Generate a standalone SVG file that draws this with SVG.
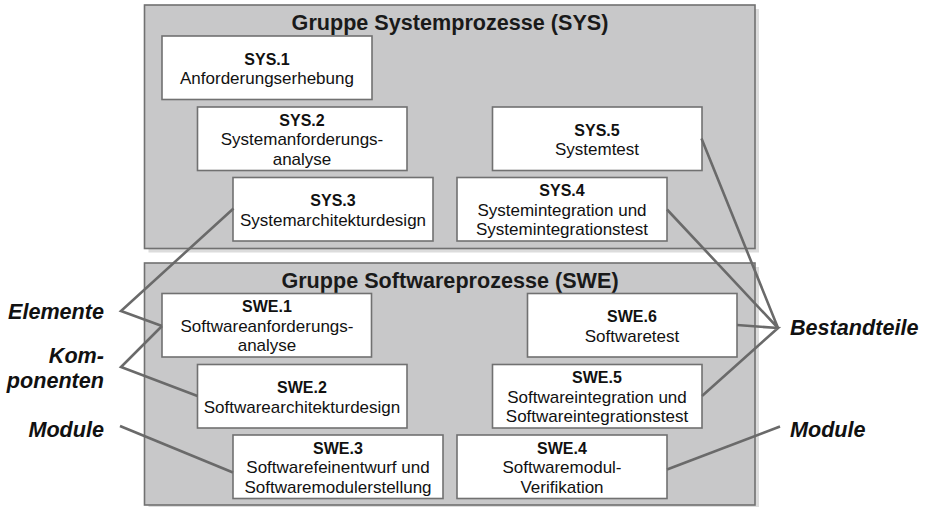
<svg xmlns="http://www.w3.org/2000/svg" width="926" height="507" viewBox="0 0 926 507">
  <style>
    .shadow { fill: #dcdcdc; }
    .group { fill: #c8c8c9; stroke: #717171; stroke-width: 1.6; }
    .box { fill: #ffffff; stroke: #717171; stroke-width: 1.6; }
    .gtitle { font-family: "Liberation Sans", Arial, sans-serif; font-size: 21.6px; font-weight: bold; fill: #1a1a1a; text-anchor: middle; }
    .id { font-family: "Liberation Sans", Arial, sans-serif; font-size: 16px; font-weight: bold; fill: #111; text-anchor: middle; }
    .txt { font-family: "Liberation Sans", Arial, sans-serif; font-size: 17px; fill: #111; text-anchor: middle; }
    .side { font-family: "Liberation Sans", Arial, sans-serif; font-size: 21.6px; font-weight: bold; font-style: italic; fill: #111; }
    .conn { fill: none; stroke: #6a6a6a; stroke-width: 2.6; stroke-linejoin: miter; stroke-linecap: butt; }
  </style>

  <!-- process groups -->
  <g id="group-sys">
    <rect class="shadow" x="148.5" y="9" width="610.5" height="243.5"/>
    <rect class="group" x="144.5" y="5" width="610.5" height="243.5"/>
    <text class="gtitle" x="450" y="29.5">Gruppe Systemprozesse (SYS)</text>
  </g>
  <g id="group-swe">
    <rect class="shadow" x="148.5" y="267" width="610.5" height="242"/>
    <rect class="group" x="144.5" y="263" width="610.5" height="242"/>
    <text class="gtitle" x="450" y="287.5">Gruppe Softwareprozesse (SWE)</text>
  </g>

  <!-- system processes -->
  <g id="sys1">
    <rect class="box" x="162" y="36" width="210" height="63.5"/>
    <text class="id" x="267" y="64.5">SYS.1</text>
    <text class="txt" x="267" y="84">Anforderungserhebung</text>
  </g>
  <g id="sys2">
    <rect class="box" x="197.5" y="107" width="209.5" height="63.5"/>
    <text class="id" x="302" y="125.5">SYS.2</text>
    <text class="txt" x="302" y="145">Systemanforderungs-</text>
    <text class="txt" x="302" y="164.5">analyse</text>
  </g>
  <g id="sys3">
    <rect class="box" x="233" y="177.5" width="200" height="63.5"/>
    <text class="id" x="333" y="206">SYS.3</text>
    <text class="txt" x="333" y="225.5">Systemarchitekturdesign</text>
  </g>
  <g id="sys4">
    <rect class="box" x="457" y="177.5" width="210" height="63.5"/>
    <text class="id" x="562" y="196">SYS.4</text>
    <text class="txt" x="562" y="215.5">Systemintegration und</text>
    <text class="txt" x="562" y="235">Systemintegrationstest</text>
  </g>
  <g id="sys5">
    <rect class="box" x="492.5" y="107" width="209.5" height="63.5"/>
    <text class="id" x="597" y="135.5">SYS.5</text>
    <text class="txt" x="597" y="155">Systemtest</text>
  </g>

  <!-- software processes -->
  <g id="swe1">
    <rect class="box" x="162" y="293.5" width="209.5" height="63.5"/>
    <text class="id" x="267" y="312">SWE.1</text>
    <text class="txt" x="267" y="331.5">Softwareanforderungs-</text>
    <text class="txt" x="267" y="351">analyse</text>
  </g>
  <g id="swe2">
    <rect class="box" x="197.5" y="364.5" width="209.5" height="63.5"/>
    <text class="id" x="302" y="393">SWE.2</text>
    <text class="txt" x="302" y="412.5">Softwarearchitekturdesign</text>
  </g>
  <g id="swe3">
    <rect class="box" x="233" y="435" width="210" height="63.5"/>
    <text class="id" x="338" y="453.5">SWE.3</text>
    <text class="txt" x="338" y="473">Softwarefeinentwurf und</text>
    <text class="txt" x="338" y="492.5">Softwaremodulerstellung</text>
  </g>
  <g id="swe4">
    <rect class="box" x="457" y="435" width="210" height="63.5"/>
    <text class="id" x="562" y="453.5">SWE.4</text>
    <text class="txt" x="562" y="473">Softwaremodul-</text>
    <text class="txt" x="562" y="492.5">Verifikation</text>
  </g>
  <g id="swe5">
    <rect class="box" x="492.5" y="364.5" width="209.5" height="63.5"/>
    <text class="id" x="597" y="383">SWE.5</text>
    <text class="txt" x="597" y="402.5">Softwareintegration und</text>
    <text class="txt" x="597" y="422">Softwareintegrationstest</text>
  </g>
  <g id="swe6">
    <rect class="box" x="527.5" y="293.5" width="209.5" height="63.5"/>
    <text class="id" x="632" y="322">SWE.6</text>
    <text class="txt" x="632" y="341.5">Softwaretest</text>
  </g>

  <!-- connectors to the side labels -->
  <g id="connectors">
    <polyline class="conn" points="233.5,208.5 121,311 162,326"/>
    <polyline class="conn" points="162,326 121,367 197.5,396"/>
    <polyline class="conn" points="120,426 233,472.5"/>
    <polyline class="conn" points="701.5,138.5 778,328 667,209.5"/>
    <polyline class="conn" points="737,325 778,328 702,396"/>
    <polyline class="conn" points="780,426.5 667,469.5"/>
  </g>

  <!-- side labels -->
  <g id="label-elemente"><text class="side" x="104" y="319" text-anchor="end">Elemente</text></g>
  <g id="label-komponenten">
    <text class="side" x="104" y="363" text-anchor="end">Kom-</text>
    <text class="side" x="104" y="388" text-anchor="end">ponenten</text>
  </g>
  <g id="label-module-left"><text class="side" x="104" y="437" text-anchor="end">Module</text></g>
  <g id="label-bestandteile"><text class="side" x="790" y="335">Bestandteile</text></g>
  <g id="label-module-right"><text class="side" x="790" y="437">Module</text></g>
</svg>
